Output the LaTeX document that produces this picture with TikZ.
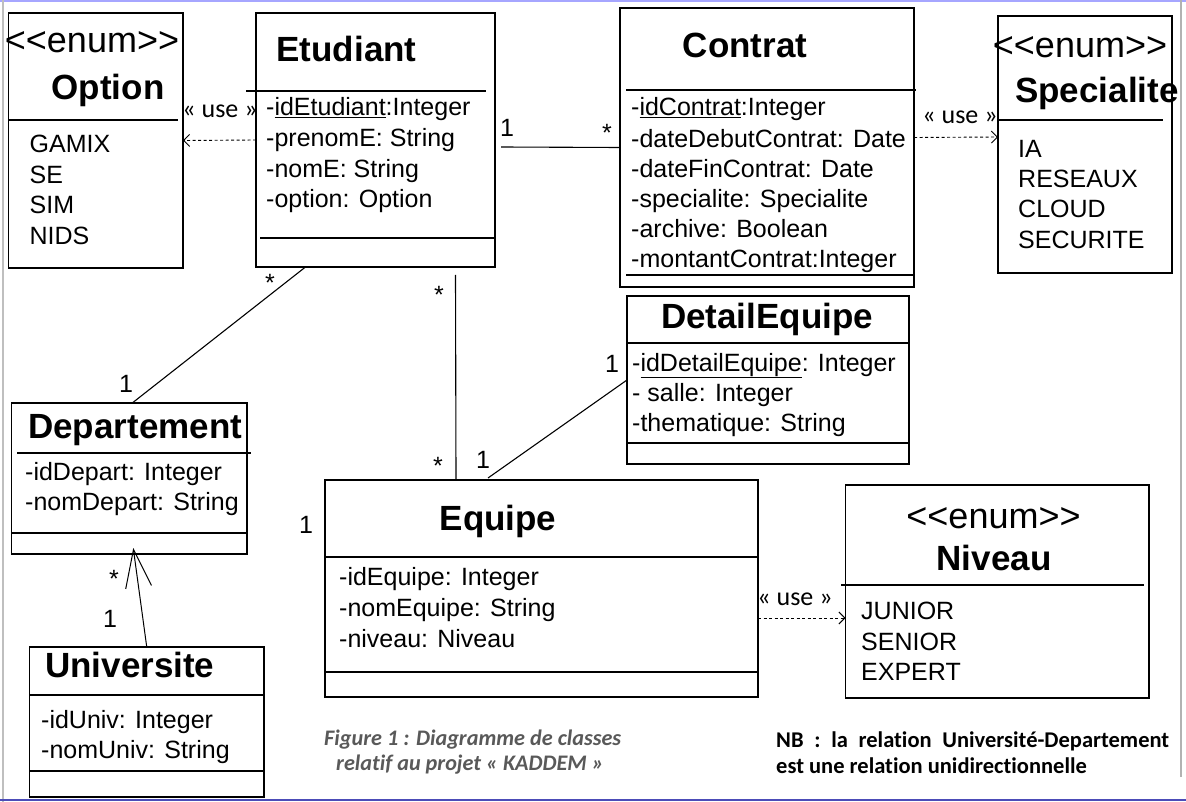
\documentclass[tikz,border=0pt]{standalone}
\usepackage{fontspec}
\setmainfont{Liberation Sans}
\newfontfamily\calfont[Ligatures={NoCommon}]{Carlito}
\usetikzlibrary{arrows.meta}
\newcommand{\enumtag}{<{}<enum>{}>}
\tikzset{
  box/.style={draw, line width=1.2pt, anchor=north west, inner sep=0pt, outer sep=0pt},
  divider/.style={line width=1.2pt},
  ttl/.style={font=\fontsize{35}{40}\selectfont\bfseries, inner sep=0pt, anchor=base},
  stereo/.style={font=\fontsize{36}{40}\selectfont, inner sep=0pt, anchor=base},
  attr/.style={font=\fontsize{25}{30}\selectfont, inner sep=0pt, anchor=base west},
  mult/.style={font=\fontsize{25}{30}\selectfont, inner sep=0pt, anchor=base},
  uselbl/.style={font=\calfont\fontsize{26}{30}\selectfont, inner sep=0pt, anchor=base},
  dep/.style={line width=0.9pt, dash pattern=on 3pt off 2.5pt, -{Straight Barb[length=6pt,width=12pt]}},
  assoc/.style={line width=1.1pt},
  navig/.style={line width=1pt, -{Straight Barb[length=38pt,width=26pt]}},
  capt/.style={font=\calfont\fontsize{22.2}{26}\selectfont\bfseries\itshape, text=black!65, inner sep=0pt, anchor=base west},
  nbtxt/.style={font=\calfont\fontsize{22.5}{26}\selectfont\bfseries, inner sep=0pt, anchor=base west}
}
\begin{document}
\begin{tikzpicture}[x=1pt,y=-1pt]
\useasboundingbox (0,0) rectangle (1186,802);
\fill[white] (0,0) rectangle (1186,802);
% screenshot frame
\draw[blue!35, line width=1.5pt] (0,1) -- (1186,1);
\draw[black!25, line width=1.5pt] (3,0) -- (3,802);
\draw[black!30, line width=1.5pt] (1181,0) -- (1181,777);
\draw[blue!60!black!70, line width=2pt] (0,800) -- (1186,800);

% boxes
\node[box, minimum width=174.5pt, minimum height=255pt] (opt) at (8.5,13) {};
\node[box, minimum width=239pt, minimum height=254pt] (etu) at (256,13) {};
\node[box, minimum width=294pt, minimum height=279pt] (con) at (620,8) {};
\node[box, minimum width=174pt, minimum height=257pt] (spec) at (998,16) {};
\node[box, minimum width=282pt, minimum height=168pt] (det) at (627,296) {};
\node[box, minimum width=235.5pt, minimum height=151pt] (dep) at (11.5,403) {};
\node[box, minimum width=234.5pt, minimum height=150pt] (uni) at (29.5,647) {};
\node[box, minimum width=433pt, minimum height=217pt] (equ) at (325,480) {};
\node[box, minimum width=303.5pt, minimum height=213pt] (niv) at (845.5,485) {};

% dividers
\draw[divider] (8.5,120) -- (178,120);
\draw[divider] (246,91) -- (486,91);
\draw[divider] (260,238) -- (495,238);
\draw[divider] (626,90) -- (916,90);
\draw[divider] (626,275) -- (914,275);
\draw[divider] (997,120) -- (1163,120);
\draw[divider] (627,343) -- (909,343);
\draw[divider] (627,443) -- (909,443);
\draw[divider] (17,453) -- (251,453);
\draw[divider] (11.5,533) -- (247,533);
\draw[divider] (29.5,695) -- (264,695);
\draw[divider] (29.5,771) -- (264,771);
\draw[divider] (325,557) -- (758,557);
\draw[divider] (325,672) -- (758,672);
\draw[divider] (841,585) -- (1144,585);

% Option
\node[stereo] (optS) at (92,53) {\enumtag};
\node[ttl] (optT) at (108,100) {Option};
\node[attr] (optA) at (29.5,153) {GAMIX};
\node[attr] (optB) at (29.5,184) {SE};
\node[attr] (optC) at (29.5,214) {SIM};
\node[attr] (optD) at (29.5,245) {NIDS};

% Etudiant
\node[ttl] (etuT) at (346.5,62) {Etudiant};
\node[attr] (etuA) at (266,116) {-\underline{idEtudiant}:Integer};
\node[attr] (etuB) at (266,147) {-prenomE: String};
\node[attr] (etuC) at (266,178) {-nomE: String};
\node[attr] (etuD) at (266,208) {-option: Option};

% Contrat
\node[ttl] (conT) at (745,58) {Contrat};
\node[attr] (conA) at (631,116) {-\underline{idContrat}:Integer};
\node[attr] (conB) at (631,148) {-dateDebutContrat: Date};
\node[attr] (conC) at (631,178) {-dateFinContrat: Date};
\node[attr] (conD) at (631,208) {-specialite: Specialite};
\node[attr] (conE) at (631,238) {-archive: Boolean};
\node[attr] (conF) at (631,268) {-montantContrat:Integer};

% Specialite
\node[stereo] (specS) at (1080,58) {\enumtag};
\node[ttl, anchor=base west] (specT) at (1015,103) {Specialite};
\node[attr] (specA) at (1018,158) {IA};
\node[attr] (specB) at (1018,188) {RESEAUX};
\node[attr] (specC) at (1018,218) {CLOUD};
\node[attr] (specD) at (1018,249) {SECURITE};

% DetailEquipe
\node[ttl] (detT) at (767,328) {DetailEquipe};
\node[attr] (detA) at (632,371) {-\underline{idDetailEquipe}: Integer};
\node[attr] (detB) at (632,401) {- salle: Integer};
\node[attr] (detC) at (632,431) {-thematique: String};

% Departement
\node[ttl, anchor=base west] (depT) at (28,438) {Departement};
\node[attr] (depA) at (25,480) {-idDepart: Integer};
\node[attr] (depB) at (25,510) {-nomDepart: String};

% Universite
\node[ttl, anchor=base west] (uniT) at (45,677) {Universite};
\node[attr] (uniA) at (41,728) {-idUniv: Integer};
\node[attr] (uniB) at (41,758) {-nomUniv: String};

% Equipe
\node[ttl] (equT) at (498,530) {Equipe};
\node[attr] (equA) at (339,585) {-idEquipe: Integer};
\node[attr] (equB) at (339,616) {-nomEquipe: String};
\node[attr] (equC) at (339,647) {-niveau: Niveau};

% Niveau
\node[stereo] (nivS) at (993.5,528) {\enumtag};
\node[ttl] (nivT) at (994,570) {Niveau};
\node[attr] (nivA) at (861,619) {JUNIOR};
\node[attr] (nivB) at (861,650) {SENIOR};
\node[attr] (nivC) at (861,680) {EXPERT};

% connectors
\draw[dep] (etu.west) -- (opt.east);
\node[uselbl] (use1) at (220,118) {« use »};
\draw[assoc] ([shift={(6,7)}]etu.east) -- (con.west);
\draw[dep] ([yshift=10pt]con.east) -- ([yshift=7.5pt]spec.west);
\node[uselbl] (use2) at (960,124) {« use »};
\draw[dep] ([yshift=-29.5pt]equ.east) -- ([yshift=-26.5pt]niv.west);
\node[uselbl] (use3) at (795,605) {« use »};
\draw[assoc] ([xshift=-70pt]etu.south) -- ([xshift=3pt]dep.north);
\draw[assoc] ([shift={(80,8)}]etu.south) -- ([xshift=-85.5pt]equ.north);
\draw[assoc] (det.west) -- ([shift={(-53.5,-2)}]equ.north);
\draw[navig] (uni.north) -- ([shift={(4,-6)}]dep.south);

% multiplicities
\node[mult] (m1) at (507,137) {1};
\node[mult] (m2) at (607,142) {*};
\node[mult] (m3) at (270,292) {*};
\node[mult] (m4) at (126,392) {1};
\node[mult] (m5) at (439,304) {*};
\node[mult] (m6) at (438,474) {*};
\node[mult] (m7) at (612,372) {1};
\node[mult] (m8) at (483,468) {1};
\node[mult] (m9) at (306,533) {1};
\node[mult] (m10) at (114,587) {*};
\node[mult] (m11) at (110,627) {1};

% caption and note
\node[capt] (cap1) at (324,745) {Figure 1 : Diagramme de classes};
\node[capt] (cap2) at (336,770) {relatif au projet « KADDEM »};
\node[nbtxt] (nb1) at (776,747) {\makebox[393pt][s]{NB : la relation Université-Departement}};
\node[nbtxt] (nb2) at (776,773) {est une relation unidirectionnelle};
\end{tikzpicture}
\end{document}
